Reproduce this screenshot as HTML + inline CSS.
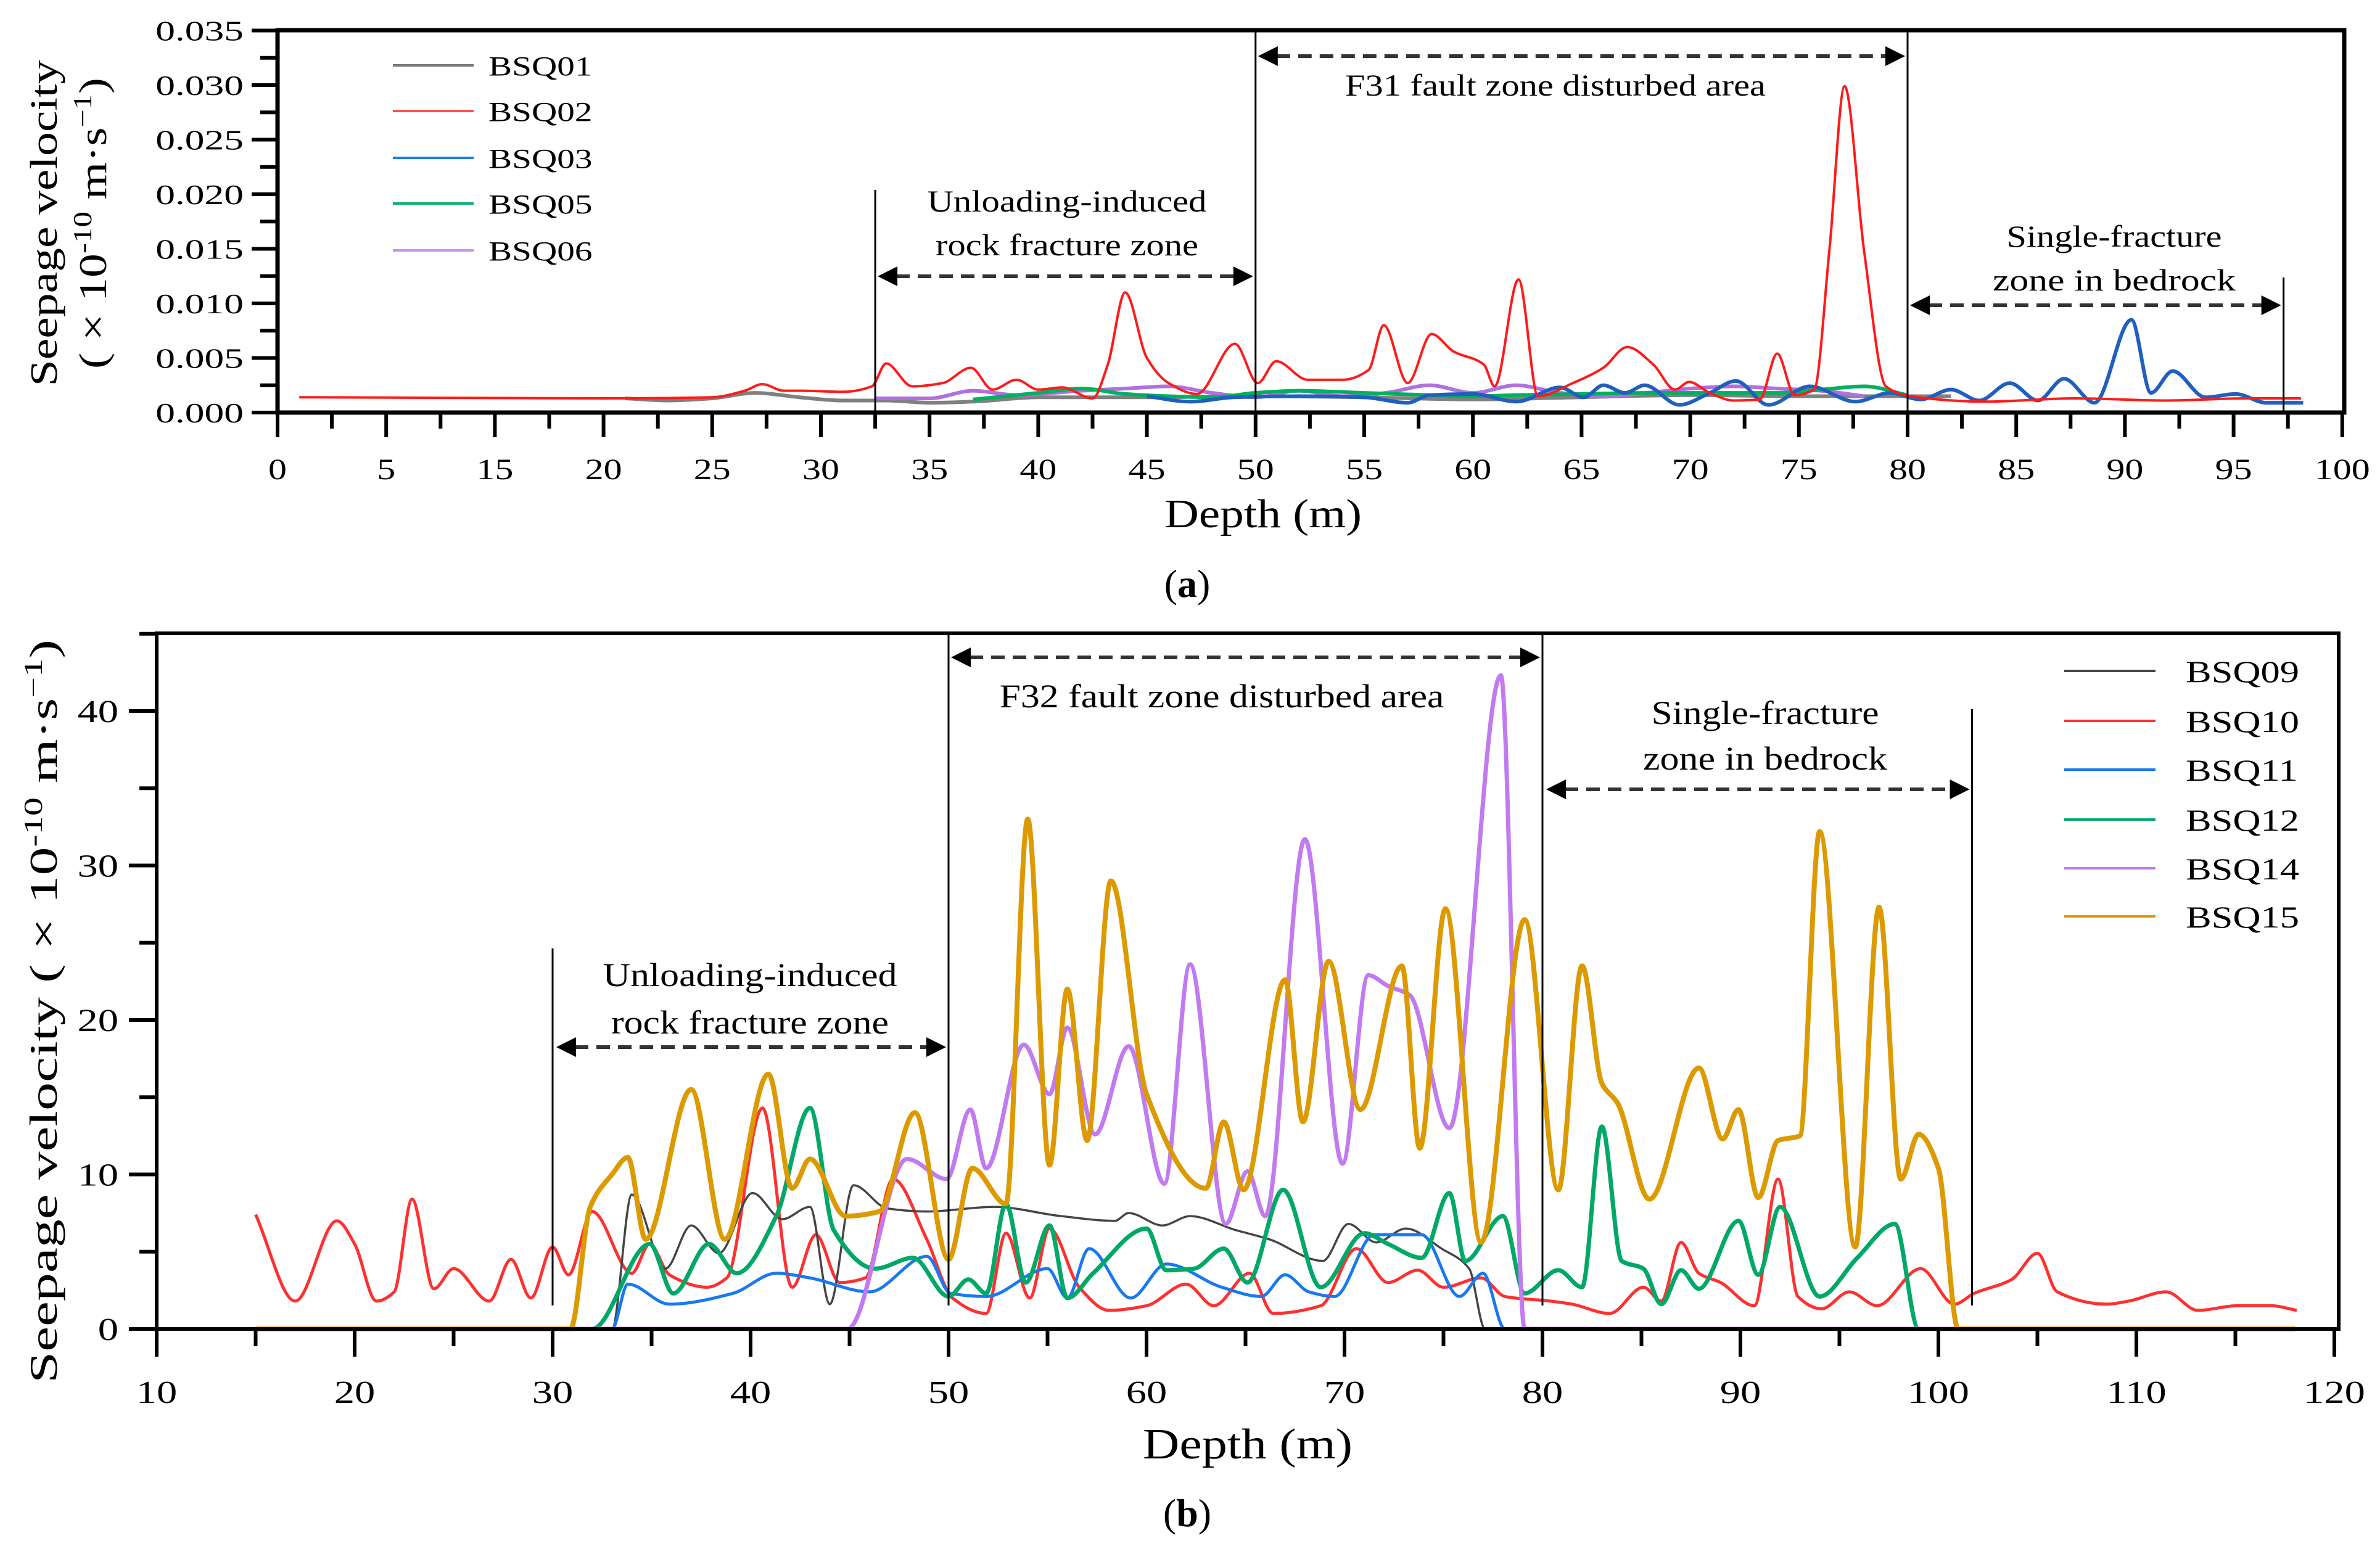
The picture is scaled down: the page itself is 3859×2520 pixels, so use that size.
<!DOCTYPE html>
<html><head><meta charset="utf-8">
<style>
html,body{margin:0;padding:0;background:#fff;}
svg{display:block;font-family:"Liberation Serif","Times New Roman",serif;}
</style></head>
<body>
<svg id="fig" xmlns="http://www.w3.org/2000/svg" width="3859" height="2520" viewBox="0 0 3859 2520">
<rect x="0" y="0" width="3859" height="2520" fill="#fff"/>
<g id="pa"></g>
<g id="pb"></g>

<g>
<text transform="translate(92,362) rotate(-90)" text-anchor="middle" font-size="62" textLength="529" lengthAdjust="spacingAndGlyphs">Seepage velocity</text>
<text transform="translate(172,362) rotate(-90)" text-anchor="middle" font-size="64" textLength="472" lengthAdjust="spacingAndGlyphs">( × 10<tspan font-size="42" dy="-24">-10</tspan><tspan dy="24"> m·s</tspan><tspan font-size="42" dy="-24">−1</tspan><tspan dy="24">)</tspan></text>
</g>
<text x="2048" y="855" text-anchor="middle" font-size="66" textLength="320" lengthAdjust="spacingAndGlyphs">Depth (m)</text>
<text x="1925" y="968" text-anchor="middle" font-size="64">(<tspan font-weight="bold">a</tspan>)</text>

<g>
<text transform="translate(92,1640) rotate(-90)" text-anchor="middle" font-size="64" textLength="1206" lengthAdjust="spacingAndGlyphs">Seepage velocity  ( × 10<tspan font-size="42" dy="-24">-10</tspan><tspan dy="24"> m·s</tspan><tspan font-size="42" dy="-24">−1</tspan><tspan dy="24">)</tspan></text>
</g>
<text x="2023" y="2365" text-anchor="middle" font-size="70" textLength="340" lengthAdjust="spacingAndGlyphs">Depth (m)</text>
<text x="1925" y="2475" text-anchor="middle" font-size="64">(<tspan font-weight="bold">b</tspan>)</text>
</svg>

<script>
// ---------------- Panel (a) data ----------------
const aXTickValues = [0,5,15,20,25,30,35,40,45,50,55,60,65,70,75,80,85,90,95,100];
const aXTickLabels = ['0','5','15','20','25','30','35','40','45','50','55','60','65','70','75','80','85','90','95','100'];
const aYTickValues = [0,0.005,0.010,0.015,0.020,0.025,0.030,0.035];
const aYTickLabels = ['0.000','0.005','0.010','0.015','0.020','0.025','0.030','0.035'];
const aSeriesNames = ['BSQ01','BSQ02','BSQ03','BSQ05','BSQ06'];
// values in 1e-3 units (1.3 -> 0.0013)
const aBSQ01 = [[21,1.3],[23,1.1],[25,1.3],[27,1.8],[29,1.4],[31,1.1],[33,1.1],[35,0.9],[37,1.0],[40,1.4],[45,1.4],[50,1.5],[55,1.4],[60,1.2],[65,1.4],[70,1.6],[75,1.5],[80,1.5],[82,1.5]];
const aBSQ02 = [[1,1.4],[10,1.35],[20,1.3],[25,1.4],[26.5,2.0],[27.3,2.6],[28.3,2.0],[29.1,2.0],[31,1.9],[32.35,2.4],[33,4.5],[34.2,2.4],[35.6,2.7],[36.9,4.1],[37.9,2.1],[39,3.0],[40,2.1],[41.1,2.3],[42.5,1.3],[43.2,4.4],[44,11.0],[45,5.0],[46,2.7],[47.3,1.7],[49.05,6.3],[50.1,2.7],[50.95,4.7],[52.4,3.0],[54,3.0],[55.2,3.9],[55.9,8.0],[57,2.7],[58.1,7.2],[59.1,5.6],[60.5,4.4],[61,2.4],[62.1,12.2],[63,1.5],[64.6,2.7],[66,4.1],[67.1,6.0],[68.3,4.4],[69.3,2.1],[69.95,2.8],[70.9,1.8],[72,1.1],[73.2,1.2],[74,5.4],[74.8,1.6],[75.7,2.1],[76.4,14.8],[77.1,29.9],[78,14.8],[79,2.4],[80.1,1.5],[83.6,1.0],[87.7,1.3],[91.9,1.1],[95.6,1.3],[98.1,1.3]];
const aBSQ03 = [[45,1.5],[47,1.0],[49,1.4],[52,1.5],[55,1.4],[57,0.9],[58,1.6],[60,1.7],[62,1.0],[64,2.3],[65.1,1.4],[66,2.5],[67,1.8],[67.9,2.5],[69.5,0.7],[70.9,1.8],[72.1,2.9],[73.6,0.7],[75.5,2.4],[77.6,1.0],[79.2,1.8],[80.6,1.2],[82,2.1],[83.3,1.1],[84.7,2.7],[86,1.1],[87.2,3.1],[88.6,0.9],[90.3,8.5],[91.2,1.8],[92.2,3.8],[93.7,1.4],[95.1,1.7],[96.5,0.9],[98.2,0.9]];
const aBSQ05 = [[37,1.2],[40,1.8],[42,2.2],[44,1.7],[46,1.5],[48,1.4],[50,1.8],[52,2.0],[55,1.8],[58,1.6],[60,1.5],[62,1.6],[65,1.7],[68,1.8],[70,1.8],[74,1.8],[76,2.1],[78,2.4],[80,1.6]];
const aBSQ06 = [[32.5,1.3],[35,1.3],[37,2.0],[39,1.6],[42,2.0],[44,2.2],[46,2.4],[48,1.8],[50,1.4],[52,2.0],[54,1.5],[56,1.8],[58,2.5],[60,1.8],[62,2.5],[64,1.8],[66,1.5],[68,1.8],[70,2.2],[72,2.4],[74,2.2],[76,2.0],[78,1.5]];

// ---------------- Panel (b) data ----------------
const bXTickValues = [10,20,30,40,50,60,70,80,90,100,110,120];
const bXTickLabels = ['10','20','30','40','50','60','70','80','90','100','110','120'];
const bYTickValues = [0,10,20,30,40];
const bYTickLabels = ['0','10','20','30','40'];
const bSeriesNames = ['BSQ09','BSQ10','BSQ11','BSQ12','BSQ14','BSQ15'];
const bBSQ09 = [[15,0],[33,0],[34,8.7],[35.7,3.9],[37,6.7],[38.4,4.9],[40.1,8.8],[41.6,7.1],[43,7.9],[44,1.6],[45.2,9.3],[46.9,7.8],[48.9,7.6],[52.3,7.9],[55.7,7.3],[58.4,7.0],[59.1,7.5],[60.8,6.7],[62.2,7.3],[64.5,6.4],[66.2,5.8],[68.9,4.4],[70.2,6.8],[71.6,5.6],[73.1,6.5],[74.9,5.2],[76.3,3.9],[77.1,0],[118,0]];
const bBSQ10 = [[15,7.4],[17,1.8],[19.1,7.0],[20,5.5],[21.1,1.8],[22,2.4],[22.9,8.4],[24,2.6],[25,3.9],[26.8,1.8],[27.9,4.5],[28.9,2.0],[30,5.3],[30.8,3.5],[32,7.6],[34,3.6],[34.9,5.5],[35.9,3.5],[37.8,2.7],[38.8,3.3],[40.6,14.3],[42.1,2.7],[43.3,6.1],[44.5,3.0],[45.8,3.3],[47.2,9.7],[48.9,5.8],[50.2,2.0],[51.9,1.0],[52.9,6.2],[54.1,2.0],[55.1,6.5],[56.6,2.7],[58.1,1.2],[60,1.5],[62,2.9],[63.4,1.5],[65.2,3.6],[66.4,1.0],[68.8,1.5],[70.6,5.2],[72.2,3.0],[73.7,3.8],[75,2.7],[76.9,3.3],[78.1,2.1],[80.4,1.8],[81.5,1.6],[83.4,1.0],[85.1,2.7],[86,1.8],[87,5.6],[87.9,3.6],[89,3.0],[90.7,1.5],[91.9,9.7],[92.9,2.1],[94.1,1.3],[95.5,2.4],[96.9,1.5],[99.1,3.9],[100.8,1.6],[101.8,2.3],[103.7,3.2],[105,4.9],[106,2.4],[108.5,1.6],[109.6,1.8],[111.5,2.4],[113.1,1.2],[115.1,1.5],[116.8,1.5],[118.1,1.2]];
const bBSQ11 = [[15,0],[33,0],[33.8,2.9],[35.9,1.6],[39.1,2.3],[41.3,3.6],[43,3.3],[46,2.4],[48.9,4.7],[50.1,2.3],[51.9,2.1],[55,3.9],[56,2.0],[57.1,5.2],[59.2,2.0],[61,4.2],[63.8,2.7],[65.8,2.1],[67,3.5],[68.2,2.4],[69.5,2.1],[71.5,6.1],[73.9,6.1],[75.8,2.1],[77,3.6],[78.1,0],[118,0]];
const bBSQ12 = [[15,0],[32,0],[34.9,5.5],[36.1,2.3],[37.9,5.5],[39.3,3.6],[41.3,7.3],[43,14.3],[44.2,6.4],[46.3,3.9],[48.2,4.6],[50,2.1],[51,3.2],[51.9,2.3],[52.9,8.1],[53.9,3.0],[55.1,6.7],[56,2.0],[57.3,3.6],[60,6.5],[61,3.8],[62.4,3.9],[63.9,5.2],[65.1,3.0],[66.9,9.0],[68.8,2.7],[71,6.2],[72.2,5.5],[73.9,4.6],[75.3,8.8],[76.1,4.4],[78,7.3],[79.1,2.3],[80.8,3.8],[82,2.7],[83,13.1],[84,4.4],[85.1,3.9],[86,1.6],[87,3.8],[87.9,2.6],[89.9,7.0],[90.9,3.5],[92,7.9],[94,2.1],[95.9,4.6],[97.8,6.8],[99,0],[118,0]];
const bBSQ14 = [[15,0],[44.9,0],[47.9,11.0],[49.9,9.7],[51.1,14.2],[51.9,10.4],[53.8,18.4],[55.1,15.2],[56,19.5],[57.4,12.6],[59.1,18.3],[60.9,9.4],[62.2,23.6],[64,6.8],[65.1,10.2],[66,7.3],[68,31.7],[69.9,10.7],[71.2,22.9],[72.2,22.2],[73.3,21.6],[75.3,13.0],[77.9,42.3],[79.1,0],[118,0]];
const bBSQ15 = [[15,0],[30.9,0],[31.9,7.9],[33,10.0],[33.8,11.1],[34.7,5.8],[37,15.5],[38.7,5.8],[40.9,16.5],[42.1,9.1],[43,11.0],[44.8,7.3],[46.5,7.6],[48.3,14.0],[50,4.5],[51.2,10.4],[52.9,8.1],[54,33.0],[55.1,10.6],[56,22.0],[57,12.2],[58.2,29.0],[60,15.2],[63,9.1],[63.9,13.4],[64.9,9.0],[67,22.6],[67.9,13.4],[69.2,23.8],[70.8,14.2],[72.9,23.5],[73.8,11.7],[75.1,27.2],[76.9,5.6],[79.1,26.5],[80.8,9.0],[82,23.5],[83,15.9],[83.8,14.6],[85.4,8.4],[87.9,16.9],[89.1,12.3],[89.9,14.2],[90.9,8.5],[91.9,12.2],[93,12.5],[94,32.2],[95.8,5.3],[97,27.3],[98.1,9.7],[99,12.6],[100,10.4],[101,0],[118,0]];

const NS = 'http://www.w3.org/2000/svg';
function mk(tag, parent){ const e=document.createElementNS(NS,tag); parent.appendChild(e); return e; }
function spline(pts, X, Y){
  const n=pts.length, xs=pts.map(p=>p[0]), ys=pts.map(p=>p[1]);
  const dx=[],s=[];
  for(let i=0;i<n-1;i++){ dx.push(xs[i+1]-xs[i]); s.push((ys[i+1]-ys[i])/dx[i]); }
  const m=new Array(n);
  m[0]=s[0]; m[n-1]=s[n-2];
  for(let i=1;i<n-1;i++){
    if(s[i-1]*s[i]<=0) m[i]=0;
    else { const w1=2*dx[i]+dx[i-1], w2=dx[i]+2*dx[i-1]; m[i]=(w1+w2)/(w1/s[i-1]+w2/s[i]); }
  }
  let d='M'+X(xs[0]).toFixed(1)+','+Y(ys[0]).toFixed(1);
  for(let i=0;i<n-1;i++){
    const h=dx[i];
    const c1x=xs[i]+h/3, c1y=ys[i]+m[i]*h/3;
    const c2x=xs[i+1]-h/3, c2y=ys[i+1]-m[i+1]*h/3;
    d+=' C'+X(c1x).toFixed(1)+','+Y(c1y).toFixed(1)+' '+X(c2x).toFixed(1)+','+Y(c2y).toFixed(1)+' '+X(xs[i+1]).toFixed(1)+','+Y(ys[i+1]).toFixed(1);
  }
  return d;
}
function line(parent,x1,y1,x2,y2,w,col,dash){
  const l=mk('line',parent);
  l.setAttribute('x1',x1);l.setAttribute('y1',y1);l.setAttribute('x2',x2);l.setAttribute('y2',y2);
  l.setAttribute('stroke',col||'#000');l.setAttribute('stroke-width',w);
  if(dash) l.setAttribute('stroke-dasharray',dash);
  return l;
}
function text(parent,x,y,s,size,anchor,sx,len){
  const t=mk('text',parent);
  t.setAttribute('font-size',size);
  t.setAttribute('text-anchor',anchor);
  if(sx){ t.setAttribute('transform','translate('+x+','+y+') scale('+sx+',1)'); }
  else { t.setAttribute('x',x); t.setAttribute('y',y); }
  if(len){ t.setAttribute('textLength',len); t.setAttribute('lengthAdjust','spacingAndGlyphs'); }
  t.textContent=s;
  return t;
}
function arrow(parent,xa,xb,y){
  const g=mk('g',parent);
  line(g,xa+30,y,xb-30,y,6,'#333','22 13');
  const h1=mk('polygon',g); h1.setAttribute('points',(xa)+','+y+' '+(xa+32)+','+(y-16)+' '+(xa+32)+','+(y+16)); h1.setAttribute('fill','#000');
  const h2=mk('polygon',g); h2.setAttribute('points',(xb)+','+y+' '+(xb-32)+','+(y-16)+' '+(xb-32)+','+(y+16)); h2.setAttribute('fill','#000');
  return g;
}

// ================= Panel A =================
(function(){
  const pa=document.getElementById('pa');
  const L=450,R=3801,T=49,B=669;
  const xa=d=>{ const idx = d<=5 ? d/5 : (d<=15 ? 1+(d-5)/10 : 2+(d-15)/5); return L+idx*176.2; };
  const ya=v=>B-v*17700;
  const ym=v=>ya(v/1000);
  const colors=['#808080','#ff1a1a','#1f5fbf','#00b060','#b070e0'];
  const legendColors=['#777777','#ff5050','#1e80e0','#10b070','#c890f0'];
  const series=[aBSQ01,aBSQ02,aBSQ03,aBSQ05,aBSQ06];
  const order=[0,4,3,2,1];
  order.forEach(i=>{
    const p=mk('path',pa);
    
    
    p.setAttribute('d',spline(series[i],xa,ym));
    p.setAttribute('fill','none');p.setAttribute('stroke',colors[i]);
    p.setAttribute('stroke-width',i===1?4:6);p.setAttribute('stroke-linejoin','round');
  });
  const box=mk('rect',pa);
  
  
  box.setAttribute('x',L);box.setAttribute('y',T);box.setAttribute('width',R-L);box.setAttribute('height',B-T);
  box.setAttribute('fill','none');box.setAttribute('stroke','#000');box.setAttribute('stroke-width',7);
  aYTickValues.forEach((v,i)=>{
    const y=ya(v);
    const tk=line(pa,L-42,y,L,y,6);
    
    
    if(i<aYTickValues.length-1){ const mt=line(pa,L-28,ya(v+0.0025),L,ya(v+0.0025),6);
      
       }
    const t=text(pa,L-55,y+16,aYTickLabels[i],46,'end',1.38);
    
    
  });
  aXTickValues.forEach((v,i)=>{
    const x=xa(v);
    const tk=line(pa,x,B,x,B+40,6);
    
    
    if(i<aXTickValues.length-1){ const xm=(x+xa(aXTickValues[i+1]))/2; const mt=line(pa,xm,B,xm,B+26,6);
      
       }
    const t=text(pa,x,B+108,aXTickLabels[i],48,'middle',1.25);
    
    
  });
  [[32.5,308],[50,T],[80,T],[97.3,450]].forEach(z=>{
    const l=line(pa,xa(z[0]),z[1],xa(z[0]),B,3);
    
    
  });
  let g=arrow(pa,xa(50)+4,xa(80)-4,91);
  
  
  g=arrow(pa,xa(32.5)+4,xa(50)-4,448);
  
  
  g=arrow(pa,xa(80)+4,xa(97.3)-4,495);
  
  
  let t=text(pa,2522,155,'F31 fault zone disturbed area',50,'middle',0,682);
  
  
  t=text(pa,1730,343,'Unloading-induced',50,'middle',0,453);
  
  
  t=text(pa,1730,414,'rock fracture zone',50,'middle',0,426);
  
  
  t=text(pa,3428,400,'Single-fracture',50,'middle',0,349);
  
  
  t=text(pa,3428,471,'zone in bedrock',50,'middle',0,394);
  
  
  const ly=[106,180,256,330,406];
  aSeriesNames.forEach((n,i)=>{
    const e=mk('g',pa);
    
    
    line(e,637,ly[i],768,ly[i],4,legendColors[i]);
    text(e,792,ly[i]+16,n,44,'start',1.3);
  });
})();

// ================= Panel B =================
(function(){
  const pb=document.getElementById('pb');
  const L=254,R=3792,T=1027,B=2155;
  const xb=d=>L+(d-10)*32.1;
  const yb=v=>B-v*25.05;
  const colors=['#454545','#ff3030','#1878f0','#00a868','#c27af0','#dc9a00'];
  const widths=[3.5,5,5,7,7,8];
  const series=[bBSQ09,bBSQ10,bBSQ11,bBSQ12,bBSQ14,bBSQ15];
  const order=[1,0,2,3,4,5];
  order.forEach(i=>{
    const p=mk('path',pb);
    
    
    p.setAttribute('d',spline(series[i],xb,yb));
    p.setAttribute('fill','none');p.setAttribute('stroke',colors[i]);
    p.setAttribute('stroke-width',widths[i]);p.setAttribute('stroke-linejoin','round');
  });
  const box=mk('rect',pb);
  
  
  box.setAttribute('x',L);box.setAttribute('y',T);box.setAttribute('width',R-L);box.setAttribute('height',B-T);
  box.setAttribute('fill','none');box.setAttribute('stroke','#000');box.setAttribute('stroke-width',6);
  bYTickValues.forEach((v,i)=>{
    const y=yb(v);
    const tk=line(pb,L-45,y,L,y,6);
    
    
    const mt=line(pb,L-28,yb(v+5),L,yb(v+5),6);
    
    
    const t=text(pb,L-62,y+18,bYTickLabels[i],52,'end',1.28);
    
    
  });
  bXTickValues.forEach((v,i)=>{
    const x=xb(v);
    const tk=line(pb,x,B,x,B+45,6);
    
    
    if(i<bXTickValues.length-1){ const mt=line(pb,xb(v+5),B,xb(v+5),B+28,6);
      
       }
    const t=text(pb,x,B+120,bXTickLabels[i],52,'middle',1.28);
    
    
  });
  [[30,1538],[50,T],[80,T],[101.7,1150]].forEach(z=>{
    const l=line(pb,xb(z[0]),z[1],xb(z[0]),2117,3);
    
    
  });
  let g=arrow(pb,xb(50)+4,xb(80)-4,1066);
  
  
  g=arrow(pb,xb(30)+6,xb(50)-4,1698);
  
  
  g=arrow(pb,xb(80)+6,xb(101.7)-4,1280);
  
  
  let t=text(pb,1981,1147,'F32 fault zone disturbed area',54,'middle',0,721);
  
  
  t=text(pb,1216,1599,'Unloading-induced',54,'middle',0,477);
  
  
  t=text(pb,1216,1676,'rock fracture zone',54,'middle',0,450);
  
  
  t=text(pb,2862,1174,'Single-fracture',54,'middle',0,369);
  
  
  t=text(pb,2862,1248,'zone in bedrock',54,'middle',0,396);
  
  
  const ly=[1088,1169,1248,1329,1408,1486];
  bSeriesNames.forEach((n,i)=>{
    const e=mk('g',pb);
    
    
    line(e,3347,ly[i],3495,ly[i],4,colors[i]);
    text(e,3544,ly[i]+18,n,50,'start',1.25);
  });
})();
</script>
</body></html>
